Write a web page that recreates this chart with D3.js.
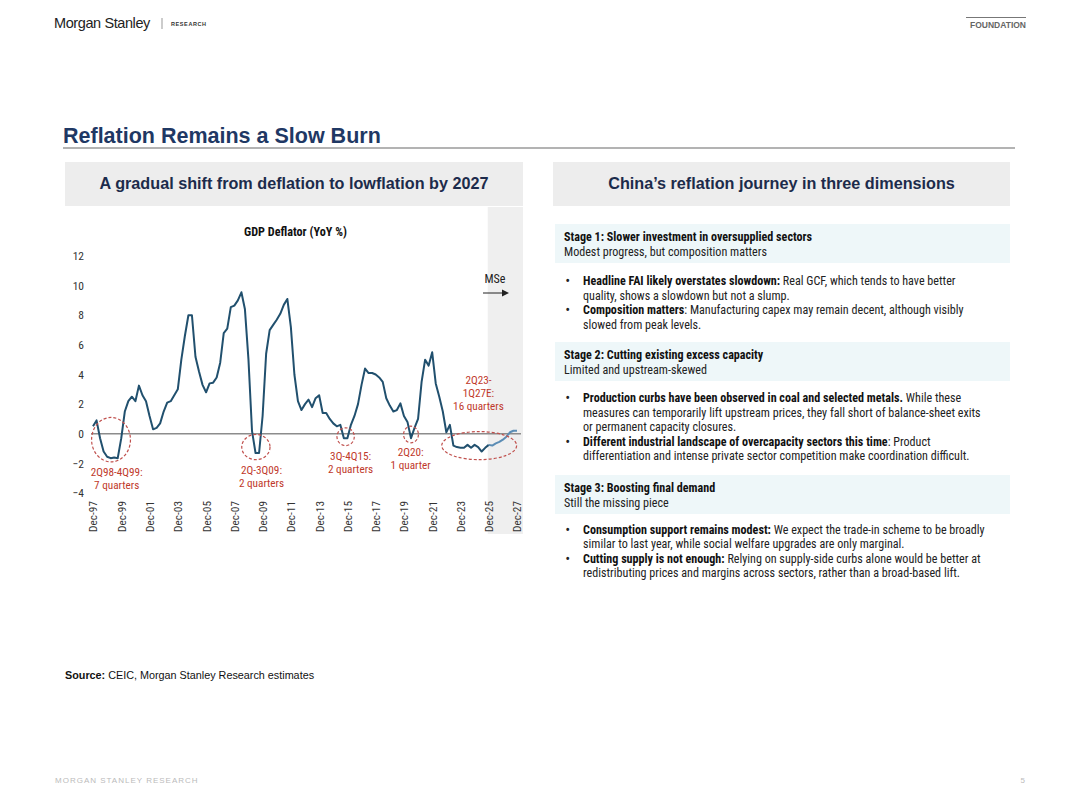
<!DOCTYPE html>
<html>
<head>
<meta charset="utf-8">
<script src="https://cdn.jsdelivr.net/npm/d3@7"></script>
<style>
  body { margin: 0; background: #fff; }
  svg { display: block; }
  .arial { font-family: "Liberation Sans", Arial, sans-serif; }
  .cond { font-family: "Roboto Condensed", "Liberation Sans Narrow", "DejaVu Sans Condensed", sans-serif; }
</style>
</head>
<body>
<svg id="page"></svg>
<script>
'use strict';

// GDP deflator YoY %, quarterly from 4Q97 to 4Q27 (MS estimates from 2026)
var deflator = [
    0.5, 0.9, -0.3, -1.2, -1.55, -1.65, -1.6, -1.65,
    -0.3, 1.5, 2.2, 2.5, 2.2, 3.25, 2.6, 2.2,
    1.2, 0.3, 0.4, 0.7, 1.5, 2.1, 2.2, 2.6,
    3.0, 5.0, 6.6, 8.0, 8.0, 5.2, 4.2, 3.3,
    2.8, 3.4, 3.45, 3.8, 4.8, 6.8, 7.1, 8.55,
    8.65, 9.0, 9.55, 8.4, 5.0, 0.2, -1.3, -1.3,
    1.2, 5.4, 7.0, 7.35, 7.7, 8.1, 8.7, 9.1,
    7.2, 4.0, 2.2, 1.6, 2.0, 2.3, 1.8, 2.4,
    2.6, 1.4, 1.4, 1.0, 0.7, 0.5, 0.6, -0.3,
    -0.3, 0.6, 1.2, 2.0, 3.3, 4.4, 4.1, 4.1,
    4.0, 3.8, 3.5, 2.4, 1.9, 1.5, 1.6, 2.05,
    1.2, 0.8, -0.3, 0.4, 1.0, 3.5, 5.0, 4.6,
    5.5, 3.4, 2.5, 1.5, 0.1, 0.6, -0.8, -0.9,
    -0.95, -0.95, -0.75, -0.95, -0.75, -0.9, -1.2, -0.95,
    -0.75, -0.8, -0.65, -0.55, -0.4, -0.2, 0.1, 0.2,
    0.2
];
var forecastFrom = 112; // 4Q25 onwards shaded as MSe

var tickLabels = ['Dec-97', 'Dec-99', 'Dec-01', 'Dec-03', 'Dec-05', 'Dec-07', 'Dec-09', 'Dec-11',
    'Dec-13', 'Dec-15', 'Dec-17', 'Dec-19', 'Dec-21', 'Dec-23', 'Dec-25', 'Dec-27'];
var yTicks = [-4, -2, 0, 2, 4, 6, 8, 10, 12];

// deflation episodes: ellipse centre (quarter, value), half widths (quarters, value units)
var episodeLabels = [['2Q98-4Q99:', '7 quarters'], ['2Q-3Q09:', '2 quarters'], ['3Q-4Q15:', '2 quarters'],
    ['2Q20:', '1 quarter'], ['2Q23-', '1Q27E:', '16 quarters']];
var episodeRings = [[5.1, -0.4, 5.5, 1.5], [46.1, -0.9, 4.0, 0.85], [71.5, -0.2, 2.45, 0.6],
    [90, -0.05, 2.1, 0.56], [109.3, -0.8, 10.6, 0.95]];
var episodeLabelAt = [[6.7, -2.55], [47.7, -2.43], [72.9, -1.49], [89.9, -1.2], [109.1, 3.65]];

var stages = [
    {
        title: 'Stage 1: Slower investment in oversupplied sectors',
        sub: 'Modest progress, but composition matters',
        bullets: [
            [[['Headline FAI likely overstates slowdown:', 1], [' Real GCF, which tends to have better', 0]],
             [['quality, shows a slowdown but not a slump.', 0]]],
            [[['Composition matters', 1], [': Manufacturing capex may remain decent, although visibly', 0]],
             [['slowed from peak levels.', 0]]]
        ]
    },
    {
        title: 'Stage 2: Cutting existing excess capacity',
        sub: 'Limited and upstream-skewed',
        bullets: [
            [[['Production curbs have been observed in coal and selected metals.', 1], [' While these', 0]],
             [['measures can temporarily lift upstream prices, they fall short of balance-sheet exits', 0]],
             [['or permanent capacity closures.', 0]]],
            [[['Different industrial landscape of overcapacity sectors this time', 1], [': Product', 0]],
             [['differentiation and intense private sector competition make coordination difficult.', 0]]]
        ]
    },
    {
        title: 'Stage 3: Boosting final demand',
        sub: 'Still the missing piece',
        bullets: [
            [[['Consumption support remains modest:', 1], [' We expect the trade-in scheme to be broadly', 0]],
             [['similar to last year, while social welfare upgrades are only marginal.', 0]]],
            [[['Cutting supply is not enough:', 1], [' Relying on supply-side curbs alone would be better at', 0]],
             [['redistributing prices and margins across sectors, rather than a broad-based lift.', 0]]]
        ]
    }
];

function render() {
    var W = 1080, H = 807;
    var d3 = window.d3;
    var svg = d3.select('#page').attr('width', W).attr('height', H);

    var navy = '#1c2b4b';
    var lineCol = '#21506e';
    var red = '#c0504d';

    // ---- page header ----
    svg.append('text').attr('class', 'arial').attr('x', 54).attr('y', 28)
        .attr('font-size', 14.5).attr('fill', '#222').attr('letter-spacing', -0.4).text('Morgan Stanley');
    svg.append('line').attr('x1', 162).attr('x2', 162).attr('y1', 18).attr('y2', 29)
        .attr('stroke', '#999').attr('stroke-width', 1);
    svg.append('text').attr('class', 'arial').attr('x', 171).attr('y', 25.5)
        .attr('font-size', 5.5).attr('font-weight', 'bold').attr('letter-spacing', 0.6)
        .attr('fill', '#333').text('RESEARCH');

    svg.append('line').attr('x1', 966).attr('x2', 1026).attr('y1', 17.5).attr('y2', 17.5)
        .attr('stroke', '#777').attr('stroke-width', 1.2);
    svg.append('text').attr('class', 'arial').attr('x', 1026).attr('y', 27.5).attr('text-anchor', 'end')
        .attr('font-size', 8.5).attr('font-weight', 'bold').attr('fill', '#666').text('FOUNDATION');

    // ---- slide title ----
    svg.append('text').attr('class', 'arial').attr('x', 63).attr('y', 143)
        .attr('font-size', 21.5).attr('font-weight', 'bold').attr('fill', '#1f3864')
        .text('Reflation Remains a Slow Burn');
    svg.append('line').attr('x1', 63).attr('x2', 1015).attr('y1', 148).attr('y2', 148)
        .attr('stroke', '#9a9a9a').attr('stroke-width', 1.3);

    // ---- section headers ----
    [[65, 523, 'A gradual shift from deflation to lowflation by 2027'],
     [553, 1010, 'China\u2019s reflation journey in three dimensions']].forEach(function (h) {
        svg.append('rect').attr('x', h[0]).attr('y', 162).attr('width', h[1] - h[0]).attr('height', 44)
            .attr('fill', '#ededed');
        svg.append('text').attr('class', 'arial').attr('x', (h[0] + h[1]) / 2).attr('y', 189)
            .attr('text-anchor', 'middle').attr('font-size', 16.2).attr('font-weight', 'bold')
            .attr('fill', navy).text(h[2]);
    });

    // ---- chart ----
    var x = d3.scaleLinear().domain([0, deflator.length - 1]).range([93, 517]);
    var y = d3.scaleLinear().domain([-4, 12]).range([493, 256]);

    // MSe shaded band
    svg.append('rect').attr('x', x(forecastFrom) - 1).attr('y', 207)
        .attr('width', 523 - x(forecastFrom) + 1).attr('height', 327).attr('fill', '#efefef');

    svg.append('text').attr('class', 'cond').attr('x', 295.5).attr('y', 236).attr('text-anchor', 'middle')
        .attr('font-size', 12.2).attr('font-weight', 'bold').attr('fill', '#111').text('GDP Deflator (YoY %)');

    var yAxis = svg.append('g').attr('transform', 'translate(84,0)')
        .call(d3.axisLeft(y).tickValues(yTicks).tickSize(0).tickPadding(0).tickFormat(d3.format('d')));
    yAxis.select('.domain').remove();
    yAxis.selectAll('text').attr('class', 'cond').attr('font-size', 11.5).attr('fill', '#333');

    // zero line
    svg.append('line').attr('x1', x(0) - 2).attr('x2', 521).attr('y1', y(0)).attr('y2', y(0))
        .attr('stroke', '#8c8c8c').attr('stroke-width', 1.5);

    var xAxis = svg.append('g').attr('transform', 'translate(0,499)')
        .call(d3.axisBottom(x).tickValues(d3.range(0, deflator.length, 8)).tickSize(0)
            .tickFormat(function (d, i) { return tickLabels[i]; }));
    xAxis.select('.domain').remove();
    xAxis.selectAll('text').attr('class', 'cond').attr('font-size', 11.3).attr('fill', '#333')
        .attr('transform', 'rotate(-90)').attr('text-anchor', 'end')
        .attr('x', -2).attr('y', 0).attr('dy', '0.35em');

    var line = d3.line().x(function (d) { return x(d[0]); }).y(function (d) { return y(d[1]); });
    var pts = deflator.map(function (v, i) { return [i, v]; });
    svg.append('path').datum(pts.slice(0, forecastFrom + 1)).attr('d', line)
        .attr('fill', 'none').attr('stroke', lineCol).attr('stroke-width', 2).attr('stroke-linejoin', 'round');
    svg.append('path').datum(pts.slice(forecastFrom)).attr('d', line)
        .attr('fill', 'none').attr('stroke', '#5b8db5').attr('stroke-width', 2).attr('stroke-linejoin', 'round');

    // MSe arrow
    svg.append('text').attr('class', 'cond').attr('x', 495).attr('y', 282.5).attr('text-anchor', 'middle')
        .attr('font-size', 12).attr('fill', '#222').text('MSe');
    svg.append('line').attr('x1', 483).attr('x2', 503).attr('y1', 293).attr('y2', 293)
        .attr('stroke', '#222').attr('stroke-width', 1);
    svg.append('path').attr('d', 'M502,289.5 L509,293 L502,296.5 Z').attr('fill', '#222');

    // deflation episodes
    episodeRings.forEach(function (r) {
        svg.append('ellipse').attr('cx', x(r[0])).attr('cy', y(r[1]))
            .attr('rx', x(r[2]) - x(0)).attr('ry', y(0) - y(r[3]))
            .attr('fill', 'none').attr('stroke', red).attr('stroke-width', 1.2)
            .attr('stroke-dasharray', '3,2');
    });
    episodeLabels.forEach(function (lines, i) {
        var t = svg.append('text').attr('class', 'cond').attr('text-anchor', 'middle')
            .attr('font-size', 11.2).attr('fill', '#c0392b');
        lines.forEach(function (s, j) {
            t.append('tspan').attr('x', x(episodeLabelAt[i][0]))
                .attr('y', y(episodeLabelAt[i][1]) + 4 + j * 13).text(s);
        });
    });

    // ---- right panel ----
    var boxTop = [224, 342, 475];
    var bulletTop = [285, 402, 533.5];
    var fs = 12.1;
    stages.forEach(function (st, si) {
        svg.append('rect').attr('x', 555).attr('y', boxTop[si]).attr('width', 455).attr('height', 39)
            .attr('fill', '#eef7f9');
        svg.append('text').attr('class', 'cond').attr('x', 564).attr('y', boxTop[si] + 17)
            .attr('font-size', fs).attr('font-weight', 'bold').attr('fill', '#111').text(st.title);
        svg.append('text').attr('class', 'cond').attr('x', 564).attr('y', boxTop[si] + 31.5)
            .attr('font-size', fs).attr('fill', '#222').text(st.sub);
        var row = 0;
        st.bullets.forEach(function (b) {
            b.forEach(function (ln, li) {
                var yy = bulletTop[si] + row * 14.5;
                if (li === 0) {
                    svg.append('text').attr('class', 'cond').attr('x', 565.5).attr('y', yy)
                        .attr('font-size', fs).attr('font-weight', 'bold').attr('fill', '#222').text('\u2022');
                }
                var t = svg.append('text').attr('class', 'cond').attr('x', 583).attr('y', yy)
                    .attr('font-size', fs).attr('fill', '#222');
                ln.forEach(function (seg) {
                    t.append('tspan').attr('font-weight', seg[1] ? 'bold' : 'normal')
                        .attr('fill', seg[1] ? '#111' : '#222').text(seg[0]);
                });
                row++;
            });
        });
    });

    // ---- source & footer ----
    var src = svg.append('text').attr('class', 'arial').attr('x', 65).attr('y', 678.5)
        .attr('font-size', 10.8).attr('fill', '#111');
    src.append('tspan').attr('font-weight', 'bold').text('Source:');
    src.append('tspan').text(' CEIC, Morgan Stanley Research estimates');

    svg.append('text').attr('class', 'arial').attr('x', 55).attr('y', 782.5)
        .attr('font-size', 8).attr('letter-spacing', 1).attr('fill', '#bbb').text('MORGAN STANLEY RESEARCH');
    svg.append('text').attr('class', 'arial').attr('x', 1025).attr('y', 782.5).attr('text-anchor', 'end')
        .attr('font-size', 8).attr('fill', '#bbb').text('5');
}

render();
</script>
</body>
</html>
